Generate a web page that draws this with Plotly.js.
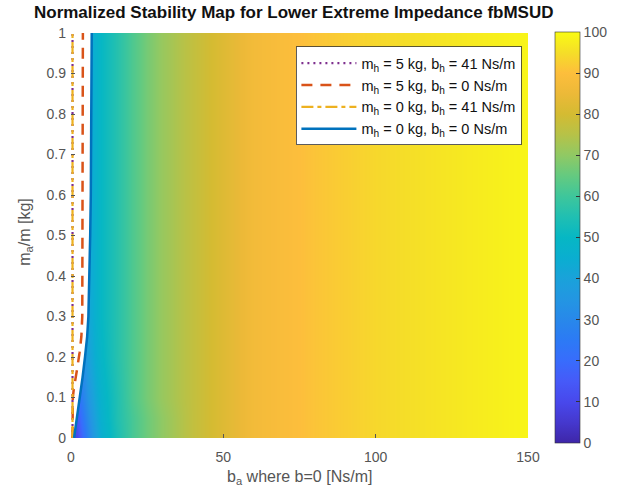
<!DOCTYPE html>
<html>
<head>
<meta charset="utf-8">
<script src="https://cdn.plot.ly/plotly-3.0.1.min.js"></script>
<style>html,body{margin:0;padding:0;background:#fff;}#chart{width:625px;height:495px;}</style>
</head>
<body>
<div id="chart"></div>
<script>
// ---- heatmap data (normalized stability) ----
const bGrid = [0, 2, 4, 6, 8, 10, 15, 20, 25, 30, 40, 50, 60, 70, 80, 100, 120, 150];
const maGrid = [0, 0.05, 0.1, 0.2, 0.3, 1];
const stab_ma000 = [5, 10, 20, 30, 38, 45, 54, 61, 66, 70, 77, 82, 87, 89, 91, 94, 96, 99];
const stab_ma005 = [8, 14, 24, 33, 40, 46, 55, 61, 66, 70, 77, 82, 87, 89, 91, 94, 96, 99];
const stab_ma010 = [12, 20, 28, 36, 42, 47, 55, 62, 67, 71, 77, 82, 87, 89, 91, 94, 96, 99];
const stab_ma020 = [20, 28, 34, 40, 45, 49, 56, 62, 67, 71, 77, 82, 87, 89, 91, 94, 96, 99];
const stab_ma030 = [25, 32, 38, 42, 46, 50, 56, 62, 67, 71, 77, 82, 87, 89, 91, 94, 96, 99];
const stab_ma100 = [28, 34, 38, 42, 46, 50, 56, 62, 67, 71, 77, 82, 87, 89, 91, 94, 96, 99];

// ---- stability boundaries ----
// m_h = 5 kg, b_h = 41 Ns/m (dotted purple)
const pur_ma = [0, 1];
const pur_b  = [0.5, 0.5];
// m_h = 5 kg, b_h = 0 Ns/m (dashed red)
const red_ma = [0, 0.08, 0.1, 0.12, 0.14, 0.17, 0.21, 0.25, 0.3, 0.5, 0.7, 1];
const red_b  = [0.5, 0.5, 0.6, 0.9, 1.4, 2.0, 2.8, 3.4, 3.7, 3.8, 3.9, 3.9];
// m_h = 0 kg, b_h = 41 Ns/m (dash-dot yellow)
const yel_ma = [0, 1];
const yel_b  = [0.5, 0.5];
// m_h = 0 kg, b_h = 0 Ns/m (solid blue)
const blue_ma = [0, 0.05, 0.1, 0.15, 0.2, 0.25, 0.3, 0.4, 0.5, 0.6, 0.8, 1];
const blue_b  = [1.0, 2.0, 2.9, 3.8, 4.6, 5.3, 5.7, 6.1, 6.3, 6.5, 6.7, 6.8];

const colorbarTicks = [0, 10, 20, 30, 40, 50, 60, 70, 80, 90, 100];
const xTicks = [0, 50, 100, 150];

const parula = [
  [0.00, 'rgb(62,38,168)'],
  [0.05, 'rgb(69,56,206)'],
  [0.10, 'rgb(72,72,236)'],
  [0.15, 'rgb(70,90,248)'],
  [0.20, 'rgb(56,108,252)'],
  [0.25, 'rgb(44,122,245)'],
  [0.30, 'rgb(40,136,234)'],
  [0.35, 'rgb(35,150,226)'],
  [0.40, 'rgb(26,162,218)'],
  [0.45, 'rgb(10,174,208)'],
  [0.50, 'rgb(6,183,196)'],
  [0.55, 'rgb(32,191,178)'],
  [0.60, 'rgb(62,198,155)'],
  [0.65, 'rgb(100,202,128)'],
  [0.70, 'rgb(144,201,100)'],
  [0.75, 'rgb(182,194,72)'],
  [0.80, 'rgb(212,187,50)'],
  [0.85, 'rgb(236,185,56)'],
  [0.90, 'rgb(253,190,60)'],
  [0.95, 'rgb(245,222,40)'],
  [1.00, 'rgb(249,251,20)']
];

const zRows = [stab_ma000, stab_ma005, stab_ma010, stab_ma020, stab_ma030, stab_ma100];
const FONT = 'Liberation Sans, Arial, Helvetica, sans-serif';

const traces = [
  {
    type: 'heatmap', x: bGrid, y: maGrid, z: zRows,
    zmin: 0, zmax: 100, zsmooth: 'best', colorscale: parula,
    showlegend: false, hoverinfo: 'skip',
    colorbar: {
      x: 1.059, xanchor: 'left', y: 1.0025, yanchor: 'top',
      len: 411, lenmode: 'pixels', thickness: 25,
      xpad: 0, ypad: 0, outlinewidth: 0.6, outlinecolor: '#333',
      tickvals: colorbarTicks, ticks: 'inside', ticklen: 4, tickcolor: '#333',
      tickprefix: '\u00a0\u00a0',
      tickfont: {family: FONT, size: 14, color: '#555'}
    }
  },
  { // white unstable region left of the solid boundary
    type: 'scatter', mode: 'none',
    x: [0].concat(blue_b, [0]), y: [0].concat(blue_ma, [1]),
    fill: 'toself', fillcolor: '#ffffff', showlegend: false, hoverinfo: 'skip'
  },
  {
    type: 'scatter', mode: 'lines', x: pur_b, y: pur_ma,
    name: 'm<sub>h</sub> = 5 kg, b<sub>h</sub> = 41 Ns/m',
    line: {color: '#7E2F8E', width: 2.2, dash: '2px,4px'}
  },
  {
    type: 'scatter', mode: 'lines', x: red_b, y: red_ma,
    name: 'm<sub>h</sub> = 5 kg, b<sub>h</sub> = 0 Ns/m',
    line: {color: '#D95319', width: 2.5, dash: '11px,8px'}
  },
  {
    type: 'scatter', mode: 'lines', x: yel_b, y: yel_ma,
    name: 'm<sub>h</sub> = 0 kg, b<sub>h</sub> = 41 Ns/m',
    line: {color: '#EDB120', width: 2.2, dash: '12px,4px,4px,4px'}
  },
  {
    type: 'scatter', mode: 'lines', x: blue_b, y: blue_ma,
    name: 'm<sub>h</sub> = 0 kg, b<sub>h</sub> = 0 Ns/m',
    line: {color: '#0072BD', width: 2.5}
  }
];

const axisFont = {family: FONT, size: 14, color: '#555'};

const layout = {
  width: 625, height: 495,
  margin: {l: 71, r: 97, t: 33, b: 57},
  paper_bgcolor: '#ffffff', plot_bgcolor: '#ffffff',
  font: {family: FONT, size: 14, color: '#222'},
  title: {
    text: '<b>Normalized Stability Map for Lower Extreme Impedance fbMSUD</b>',
    font: {family: FONT, size: 17, color: '#111'},
    x: 0.47, xanchor: 'center', y: 0.976, yanchor: 'middle', yref: 'container'
  },
  xaxis: {
    range: [0, 150], tickvals: xTicks, ticks: 'inside', ticklen: 4,
    tickcolor: '#555', showgrid: false, zeroline: false, showline: false,
    tickfont: axisFont, ticklabelstandoff: 9
  },
  yaxis: {
    range: [0, 1], dtick: 0.1, tick0: 0, ticks: 'inside', ticklen: 4,
    tickcolor: '#555', showgrid: false, zeroline: false, showline: false,
    tickfont: axisFont, ticklabelstandoff: 4
  },
  annotations: [
    {
      text: 'b<sub>a</sub> where b=0 [Ns/m]', xref: 'paper', yref: 'paper',
      x: 0.5, xanchor: 'center', y: -0.069, yanchor: 'top', showarrow: false,
      font: {family: FONT, size: 16, color: '#555'}
    },
    {
      text: 'm<sub>a</sub>/m [kg]', xref: 'paper', yref: 'paper', textangle: -90,
      x: -0.1, xanchor: 'center', y: 0.51, yanchor: 'middle', showarrow: false,
      font: {family: FONT, size: 16, color: '#555'}
    }
  ],
  legend: {
    x: 0.986, xanchor: 'right', y: 0.967, yanchor: 'top',
    bgcolor: '#ffffff', bordercolor: '#333', borderwidth: 0.8,
    itemwidth: 55,
    font: {family: FONT, size: 14.5, color: '#111'}
  },
  showlegend: true
};

Plotly.newPlot('chart', traces, layout, {displayModeBar: false, staticPlot: true});
</script>
</body>
</html>
